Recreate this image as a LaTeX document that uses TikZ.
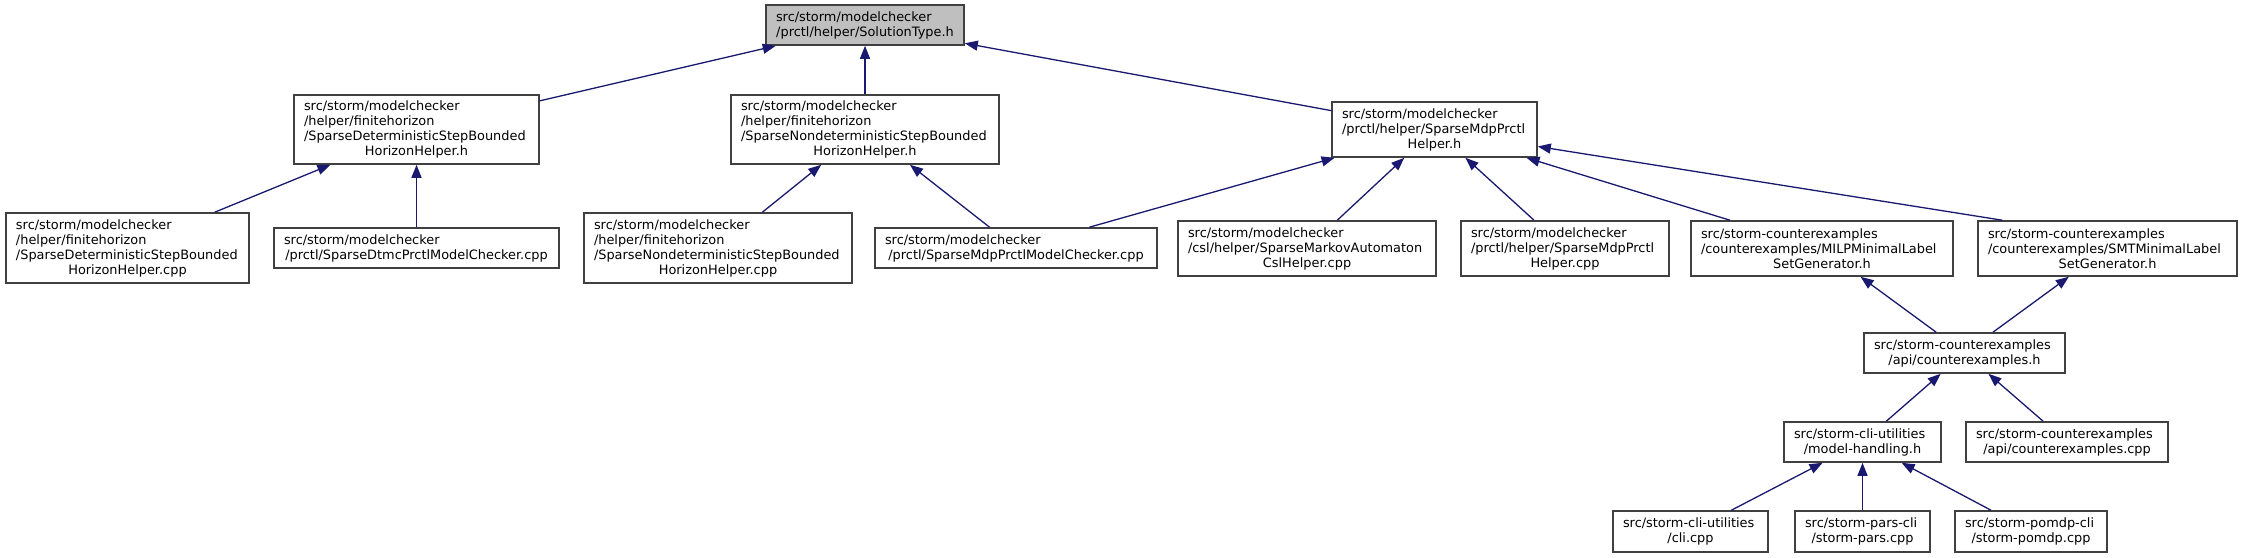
\documentclass[tikz,border=0pt]{standalone}
\usepackage{fontspec}
\setmainfont{DejaVu Sans}
\usetikzlibrary{arrows.meta}
\definecolor{edgecol}{HTML}{191970}
\definecolor{boxline}{HTML}{404040}
\definecolor{rootfill}{HTML}{BFBFBF}
\newcommand{\lft}[1]{\makebox[\linewidth][l]{#1}}
\begin{document}
\begin{tikzpicture}[x=1pt,y=-1pt,
  box/.style={draw=boxline, line width=1.6pt, fill=white, inner xsep=10pt, inner ysep=0pt,
    align=center, font=\fontsize{12.9}{15}\selectfont},
  edge/.style={draw=edgecol, line width=1.3pt, -{Triangle[length=13pt,width=10pt]}}]
\fill[white] (0,0) rectangle (2242,557);
\useasboundingbox (0,0) rectangle (2242,557);
% level 0
\node[box, fill=rootfill, minimum width=198pt, text width=178pt, minimum height=40pt] (R) at (865,25)
  {\lft{src/storm/modelchecker}\\/prctl/helper/SolutionType.h};
% level 1
\node[box, minimum width=245pt, text width=225pt, minimum height=69pt] (A) at (416.5,129.5)
  {\lft{src/storm/modelchecker}\\\lft{/helper/finitehorizon}\\\lft{/SparseDeterministicStepBounded}\\HorizonHelper.h};
\node[box, minimum width=268pt, text width=248pt, minimum height=69pt] (B) at (865,129.5)
  {\lft{src/storm/modelchecker}\\\lft{/helper/finitehorizon}\\\lft{/SparseNondeterministicStepBounded}\\HorizonHelper.h};
\node[box, minimum width=205pt, text width=185pt, minimum height=55pt] (C) at (1434.5,129.5)
  {\lft{src/storm/modelchecker}\\\lft{/prctl/helper/SparseMdpPrctl}\\Helper.h};
% level 2
\node[box, minimum width=243pt, text width=223pt, minimum height=70pt] (D) at (127.5,248)
  {\lft{src/storm/modelchecker}\\\lft{/helper/finitehorizon}\\\lft{/SparseDeterministicStepBounded}\\HorizonHelper.cpp};
\node[box, minimum width=285pt, text width=265pt, minimum height=40pt] (E) at (416.5,248)
  {\lft{src/storm/modelchecker}\\/prctl/SparseDtmcPrctlModelChecker.cpp};
\node[box, minimum width=268pt, text width=248pt, minimum height=70pt] (F) at (718,248)
  {\lft{src/storm/modelchecker}\\\lft{/helper/finitehorizon}\\\lft{/SparseNondeterministicStepBounded}\\HorizonHelper.cpp};
\node[box, minimum width=282pt, text width=262pt, minimum height=40pt] (G) at (1016,248)
  {\lft{src/storm/modelchecker}\\/prctl/SparseMdpPrctlModelChecker.cpp};
\node[box, minimum width=258pt, text width=238pt, minimum height=55pt] (H) at (1307,248.5)
  {\lft{src/storm/modelchecker}\\\lft{/csl/helper/SparseMarkovAutomaton}\\CslHelper.cpp};
\node[box, minimum width=208pt, text width=188pt, minimum height=55pt] (I) at (1565,248.5)
  {\lft{src/storm/modelchecker}\\\lft{/prctl/helper/SparseMdpPrctl}\\Helper.cpp};
\node[box, minimum width=262pt, text width=242pt, minimum height=55pt] (J) at (1822,248.5)
  {\lft{src/storm-counterexamples}\\\lft{/counterexamples/MILPMinimalLabel}\\SetGenerator.h};
\node[box, minimum width=259pt, text width=239pt, minimum height=55pt] (K) at (2107.5,248.5)
  {\lft{src/storm-counterexamples}\\\lft{/counterexamples/SMTMinimalLabel}\\SetGenerator.h};
% level 3
\node[box, minimum width=201pt, text width=181pt, minimum height=40pt] (L) at (1964.5,353)
  {\lft{src/storm-counterexamples}\\/api/counterexamples.h};
% level 4
\node[box, minimum width=157pt, text width=137pt, minimum height=40pt] (M) at (1862.5,442)
  {\lft{src/storm-cli-utilities}\\/model-handling.h};
\node[box, minimum width=202pt, text width=182pt, minimum height=40pt] (N) at (2067,442)
  {\lft{src/storm-counterexamples}\\/api/counterexamples.cpp};
% level 5
\node[box, minimum width=155pt, text width=135pt, minimum height=41pt] (O) at (1690.5,531.5)
  {\lft{src/storm-cli-utilities}\\/cli.cpp};
\node[box, minimum width=135pt, text width=115pt, minimum height=41pt] (P) at (1862.5,531.5)
  {\lft{src/storm-pars-cli}\\/storm-pars.cpp};
\node[box, minimum width=152pt, text width=132pt, minimum height=41pt] (Q) at (2031,531.5)
  {\lft{src/storm-pomdp-cli}\\/storm-pomdp.cpp};
% edges
\draw[edge] (A) -- (R);
\draw[edge] (B) -- (R);
\draw[edge] (C) -- (R);
\draw[edge] (D) -- (A);
\draw[edge] (E) -- (A);
\draw[edge] (F) -- (B);
\draw[edge] (G) -- (B);
\draw[edge] (G) -- (C);
\draw[edge] (H) -- (C);
\draw[edge] (I) -- (C);
\draw[edge] (J) -- (C);
\coordinate (k1) at ([xshift=25pt]K.north west);
\coordinate (c1) at ([yshift=-17pt]C.east);
\draw[edge] (k1) -- (c1);
\draw[edge] (L) -- (J);
\draw[edge] (L) -- (K);
\draw[edge] (M) -- (L);
\draw[edge] (N) -- (L);
\draw[edge] (O) -- (M);
\draw[edge] (P) -- (M);
\draw[edge] (Q) -- (M);
\end{tikzpicture}
\end{document}
